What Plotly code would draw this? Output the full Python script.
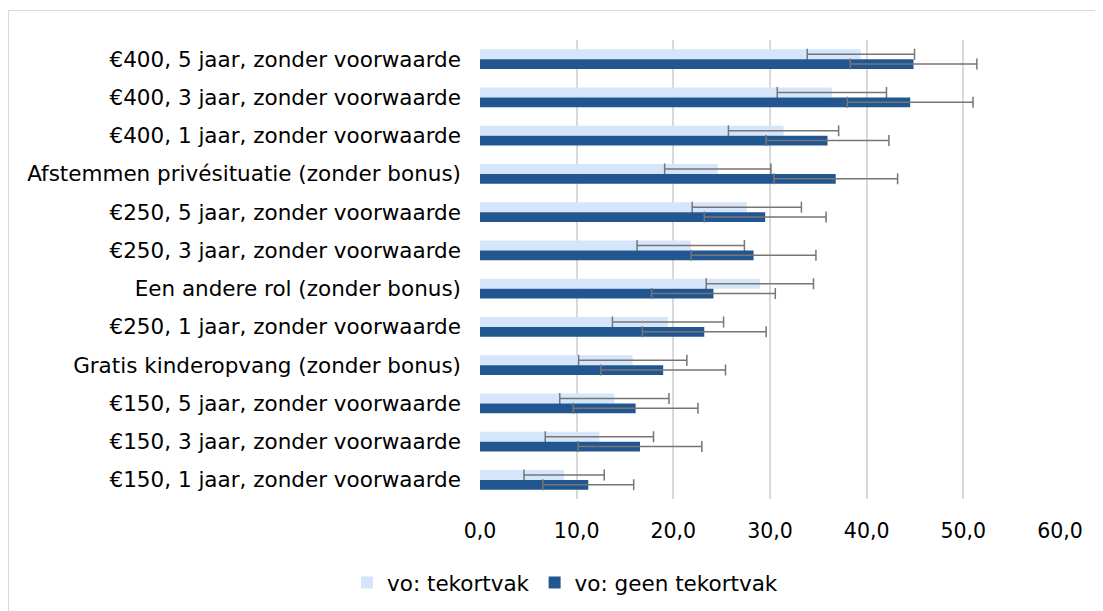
import plotly.graph_objects as go

categories = [
    "€400, 5 jaar, zonder voorwaarde",
    "€400, 3 jaar, zonder voorwaarde",
    "€400, 1 jaar, zonder voorwaarde",
    "Afstemmen privésituatie (zonder bonus)",
    "€250, 5 jaar, zonder voorwaarde",
    "€250, 3 jaar, zonder voorwaarde",
    "Een andere rol (zonder bonus)",
    "€250, 1 jaar, zonder voorwaarde",
    "Gratis kinderopvang (zonder bonus)",
    "€150, 5 jaar, zonder voorwaarde",
    "€150, 3 jaar, zonder voorwaarde",
    "€150, 1 jaar, zonder voorwaarde",
]
tekort = [39.4, 36.4, 31.4, 24.6, 27.6, 21.8, 28.95, 19.45, 15.8, 13.9, 12.35, 8.7]
tekort_err = [5.55, 5.65, 5.7, 5.5, 5.65, 5.55, 5.55, 5.75, 5.6, 5.65, 5.6, 4.15]
geen = [44.85, 44.5, 35.95, 36.8, 29.5, 28.3, 24.15, 23.2, 18.95, 16.1, 16.55, 11.2]
geen_err = [6.55, 6.5, 6.35, 6.4, 6.3, 6.45, 6.4, 6.4, 6.45, 6.45, 6.4, 4.7]
series_names = ["vo: tekortvak", "vo: geen tekortvak"]
x_ticks = [0, 10, 20, 30, 40, 50, 60]

FONT = "DejaVu Sans"
LIGHT = "#D5E6FA"
DARK = "#215690"
ERR = "#767676"

fig = go.Figure()
fig.add_trace(go.Bar(
    y=categories, x=tekort, orientation="h", name=series_names[0],
    marker=dict(color=LIGHT, line=dict(width=0)),
    error_x=dict(type="data", array=tekort_err, color=ERR, thickness=1.5, width=5.5),
))
fig.add_trace(go.Bar(
    y=categories, x=geen, orientation="h", name=series_names[1],
    marker=dict(color=DARK, line=dict(width=0)),
    error_x=dict(type="data", array=geen_err, color=ERR, thickness=1.5, width=5.5),
))

# page body margin offsets the figure by 8px; compensate
OFF = 8
W, H = 1103, 611
L, R, T, B = 480 - OFF, 43 + OFF, 40 - OFF, 112 + OFF
pw, ph = W - L - R, H - T - B

def px_to_paper(x, y):
    # x, y are screen pixel coordinates
    return (x - OFF - L) / pw, (H - B - (y - OFF)) / ph

x0, y0 = px_to_paper(8.5, 10.5)
x1, y1 = px_to_paper(1102.5, 640)
lx, ly = px_to_paper(565, 562)

fig.update_layout(
    width=W, height=H,
    margin=dict(l=L, r=R, t=T, b=B),
    paper_bgcolor="white", plot_bgcolor="white",
    barmode="group", bargap=0.49, bargroupgap=0,
    separators=", ",
    font=dict(family=FONT, size=21, color="#000000"),
    xaxis=dict(
        range=[0, 60], tickvals=x_ticks, tickformat=".1f",
        showgrid=True, gridcolor="#D9D9D9", gridwidth=2,
        zeroline=False, showline=False, ticks="",
        tickfont=dict(family=FONT, size=20.5), ticklabelstandoff=17,
    ),
    yaxis=dict(
        autorange="reversed", showgrid=False, zeroline=False, showline=False,
        ticks="", tickfont=dict(family=FONT, size=21.5), ticklabelstandoff=18,
    ),
    legend=dict(
        orientation="h", x=lx, xanchor="center", y=ly, yanchor="top",
        font=dict(family=FONT, size=21.5), itemwidth=30, traceorder="normal",
    ),
    shapes=[dict(type="rect", xref="paper", yref="paper",
                 x0=x0, y0=y1, x1=x1, y1=y0,
                 line=dict(color="#D9D9D9", width=1), layer="below")],
)

fig.write_html("out.html")
